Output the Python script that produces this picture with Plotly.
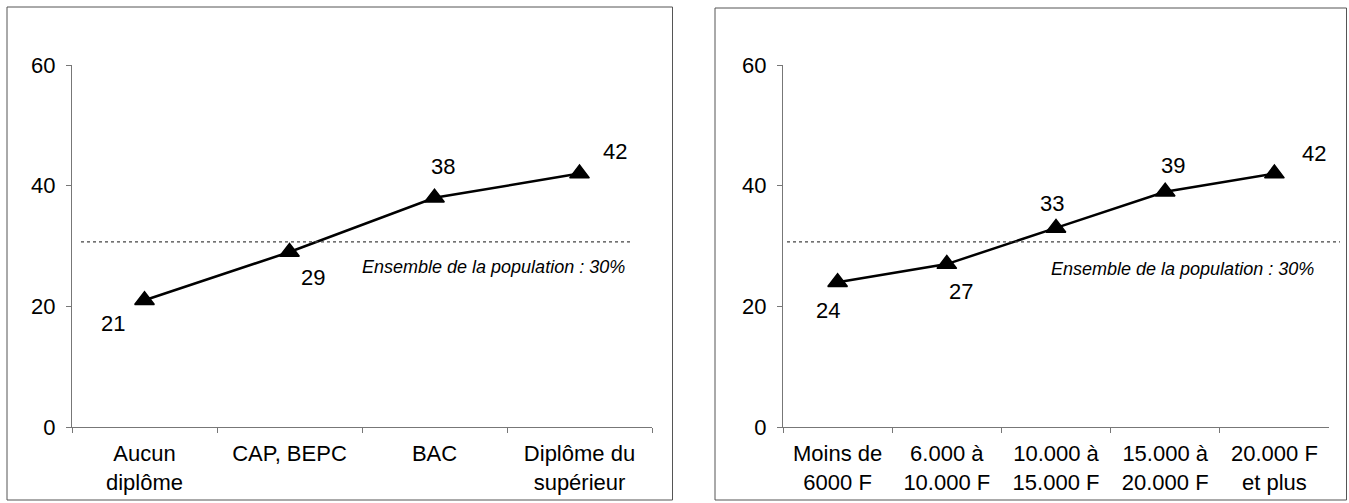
import plotly.graph_objects as go

# Données
diplome_labels = ["Aucun<br>diplôme", "CAP, BEPC", "BAC", "Diplôme du<br>supérieur"]
diplome_values = [21, 29, 38, 42]

revenu_labels = ["Moins de<br>6000 F", "6.000 à<br>10.000 F", "10.000 à<br>15.000 F",
                 "15.000 à<br>20.000 F", "20.000 F<br>et plus"]
revenu_values = [24, 27, 33, 39, 42]

ensemble_value = 30.7
ensemble_text = "Ensemble de la population : 30%"

# décalages des étiquettes (px) : (dx, dy vers le haut)
diplome_offsets = [(-32, -23), (23, -25), (8, 31), (35, 22)]
revenu_offsets = [(-10, -28), (14, -27), (-4, 24), (8, 26), (40, 20)]

FONT = "Arial, Liberation Sans, sans-serif"
W, H = 1349, 503

fig = go.Figure()

fig.add_trace(go.Scatter(
    x=diplome_labels, y=diplome_values,
    mode="lines+markers",
    line=dict(color="black", width=2.5),
    marker=dict(symbol="triangle-up", size=17, color="black",
                line=dict(color="black", width=1.5)),
    xaxis="x", yaxis="y", showlegend=False, hoverinfo="skip"
))
fig.add_trace(go.Scatter(
    x=revenu_labels, y=revenu_values,
    mode="lines+markers",
    line=dict(color="black", width=2.5),
    marker=dict(symbol="triangle-up", size=17, color="black",
                line=dict(color="black", width=1.5)),
    xaxis="x2", yaxis="y2", showlegend=False, hoverinfo="skip"
))

annotations = []
for lab, val, (dx, dy) in zip(diplome_labels, diplome_values, diplome_offsets):
    annotations.append(dict(x=lab, y=val, xref="x", yref="y", text=str(val),
                            showarrow=False, xshift=dx, yshift=dy,
                            font=dict(size=22, color="black", family=FONT)))
for lab, val, (dx, dy) in zip(revenu_labels, revenu_values, revenu_offsets):
    annotations.append(dict(x=lab, y=val, xref="x2", yref="y2", text=str(val),
                            showarrow=False, xshift=dx, yshift=dy,
                            font=dict(size=22, color="black", family=FONT)))

# texte "Ensemble de la population"
annotations.append(dict(x=0.957, y=26.6, xref="x domain", yref="y", xanchor="right",
                        text=f"<i>{ensemble_text}</i>", showarrow=False,
                        font=dict(size=18, color="black", family=FONT)))
annotations.append(dict(x=0.976, y=26.2, xref="x2 domain", yref="y2", xanchor="right",
                        text=f"<i>{ensemble_text}</i>", showarrow=False,
                        font=dict(size=18, color="black", family=FONT)))

shapes = [
    # lignes pointillées (moyenne)
    dict(type="line", xref="paper", yref="y", x0=81 / W, x1=633 / W,
         y0=ensemble_value, y1=ensemble_value,
         line=dict(color="#444", width=1.2, dash="dot")),
    dict(type="line", xref="paper", yref="y2", x0=787 / W, x1=1340 / W,
         y0=ensemble_value, y1=ensemble_value,
         line=dict(color="#444", width=1.2, dash="dot")),
    # cadres
    dict(type="rect", xref="paper", yref="paper", x0=7 / W, x1=672.5 / W,
         y0=1 - 500 / H, y1=1 - 7 / H, line=dict(color="#555", width=1)),
    dict(type="rect", xref="paper", yref="paper", x0=715 / W, x1=1346.5 / W,
         y0=1 - 500 / H, y1=1 - 8 / H, line=dict(color="#555", width=1)),
]

xcommon = dict(type="category", showline=True, linecolor="#777", linewidth=1,
               ticks="outside", tickson="boundaries", ticklen=5, tickcolor="#777",
               showgrid=False, zeroline=False, automargin=False, ticklabelstandoff=7,
               tickfont=dict(size=22, color="black", family=FONT))
ycommon = dict(range=[0, 60], dtick=20, showline=True, linecolor="#777", linewidth=1,
               ticks="outside", ticklen=5, tickcolor="#777", showgrid=False,
               zeroline=False, ticklabelstandoff=6, automargin=False,
               tickfont=dict(size=22, color="black", family=FONT))

y_dom = [1 - 427 / H, 1 - 65 / H]

fig.update_layout(
    width=W, height=H,
    margin=dict(l=0, r=0, t=0, b=0, pad=0),
    template="none",
    paper_bgcolor="white", plot_bgcolor="white",
    xaxis=dict(domain=[72 / W, 652 / W], anchor="y",
               range=[-0.5, len(diplome_labels) - 0.5], **xcommon),
    yaxis=dict(domain=y_dom, anchor="x", **ycommon),
    xaxis2=dict(domain=[783 / W, 1329 / W], anchor="y2",
                range=[-0.5, len(revenu_labels) - 0.5], **xcommon),
    yaxis2=dict(domain=y_dom, anchor="x2", **ycommon),
    annotations=annotations,
    shapes=shapes,
    font=dict(family=FONT, color="black"),
)

# pas de marge autour de la page, pas de barre d'outils
fig.write_html("out.html", config={"displayModeBar": False},
               post_script="document.body.style.margin = '0';")
